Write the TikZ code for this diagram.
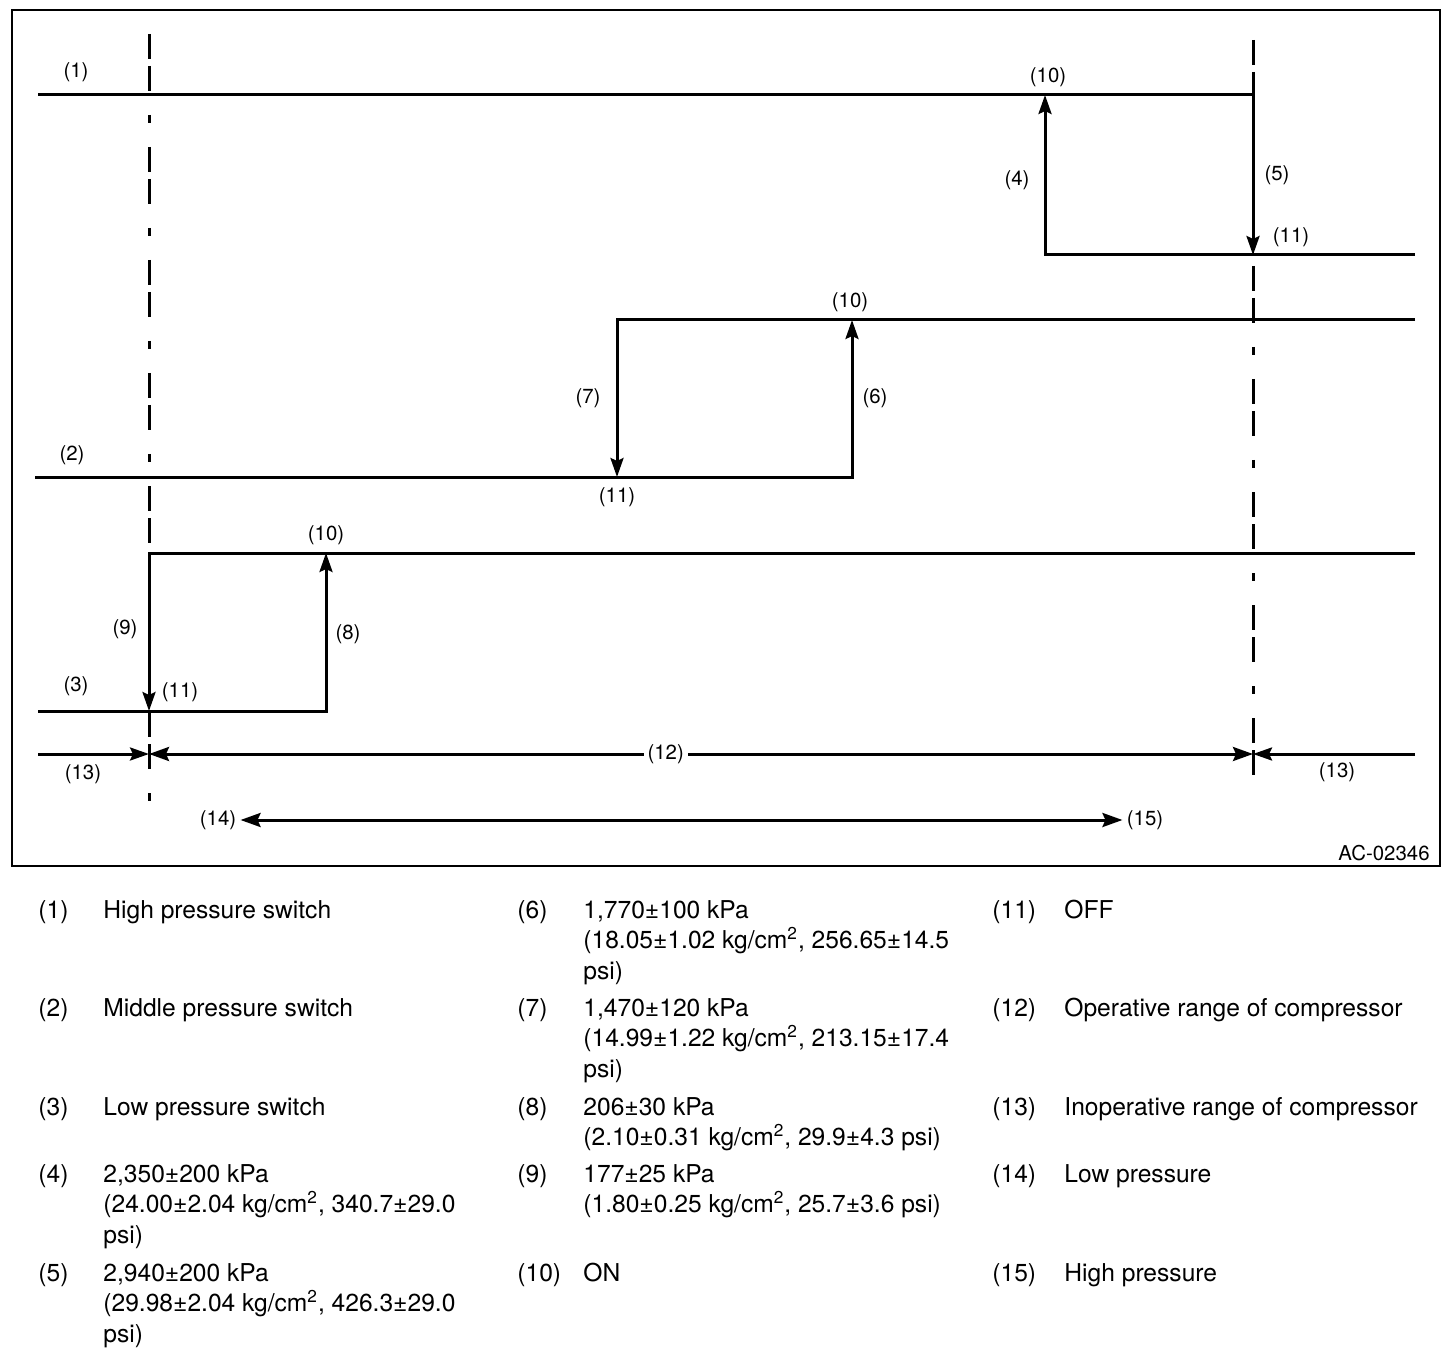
\documentclass[tikz,border=0pt]{standalone}
\usepackage{fontspec}
\setmainfont{TeX Gyre Heros}
\usetikzlibrary{arrows.meta, positioning}
\newcommand{\kgcm}{kg/cm\textsuperscript{2}}

\begin{document}
\begin{tikzpicture}[
    x=0.5pt, y=-0.5pt,
    sigline/.style={line width=1.5pt},
    sigarrow/.style={line width=1.5pt, -{Stealth[length=9.5pt, width=6.5pt, inset=1.5pt]}},
    rangearrow/.style={line width=1.5pt, {Stealth[length=10pt, width=7pt, inset=1.5pt]}-{Stealth[length=10pt, width=7pt, inset=1.5pt]}},
    limitline/.style={line width=1.5pt, dash pattern=on 12.5pt off 3.5pt on 12.5pt off 12pt on 4pt off 12pt},
    lbl/.style={font=\fontsize{10.2}{12}\selectfont, inner sep=2pt},
    legnum/.style={font=\fontsize{12.3}{15.3}\selectfont, inner sep=0pt, anchor=base west},
    legtxt/.style={legnum}
]
    \useasboundingbox (0,0) rectangle (1456,1358);

    % frame
    \coordinate (frameNW) at (12,10);
    \coordinate (frameSE) at (1440,866);
    \draw[line width=1.2pt] (frameNW) rectangle (frameSE);

    % limits of the operative range
    \coordinate (limLtop) at (149,34);
    \coordinate (limLbot) at (149,802);
    \coordinate (limRtop) at (1253,40);
    \coordinate (limRbot) at (1253,782);
    \draw[limitline] (limLtop) -- (limLbot);
    \draw[limitline] (limRtop) -- (limRbot);

    % high pressure switch
    \coordinate (hiStart) at (38,95);
    \coordinate (hiOn) at (1045,95);
    \coordinate (hiCut) at (1253,95);
    \coordinate (hiOff) at (1253,255);
    \coordinate (hiBack) at (1045,255);
    \coordinate (hiEnd) at (1415,255);
    \draw[sigarrow] (hiStart) -- (hiCut) -- (hiOff);
    \draw[sigarrow] (hiEnd) -- (hiBack) -- (hiOn);

    % middle pressure switch
    \coordinate (midStart) at (35,477);
    \coordinate (midCut) at (852,477);
    \coordinate (midOn) at (852,320);
    \coordinate (midEnd) at (1415,320);
    \coordinate (midBack) at (617,320);
    \coordinate (midOff) at (617,477);
    \draw[sigarrow] (midStart) -- (midCut) -- (midOn);
    \draw[sigarrow] (midEnd) -- (midBack) -- (midOff);

    % low pressure switch
    \coordinate (loStart) at (38,711);
    \coordinate (loCut) at (326,711);
    \coordinate (loOn) at (326,553);
    \coordinate (loEnd) at (1415,553);
    \coordinate (loBack) at (149,553);
    \coordinate (loOff) at (149,711);
    \draw[sigarrow] (loStart) -- (loCut) -- (loOn);
    \draw[sigarrow] (loEnd) -- (loBack) -- (loOff);

    % ranges
    \coordinate (rgL) at (38,754);
    \coordinate (rgA) at (149,754);
    \coordinate (rgB) at (1253,754);
    \coordinate (rgR) at (1415,754);
    \draw[sigarrow] (rgL) -- (rgA);
    \draw[sigarrow] (rgR) -- (rgB);
    \draw[rangearrow] (rgA) -- node[lbl, fill=white, pos=0.468] (n12) {(12)} (rgB);

    \node[lbl] (n14) at (218,820) {(14)};
    \node[lbl] (n15) at (1145,820) {(15)};
    \draw[rangearrow] (n14) -- (n15);

    % labels
    \node[lbl] (n1) at (76,72) {(1)};
    \node[lbl] (n10a) at (1048,77) {(10)};
    \node[lbl] (n4) at (1017,180) {(4)};
    \node[lbl] (n5) at (1277,175) {(5)};
    \node[lbl] (n11a) at (1291,237) {(11)};
    \node[lbl] (n10b) at (850,302) {(10)};
    \node[lbl] (n7) at (588,398) {(7)};
    \node[lbl] (n6) at (875,398) {(6)};
    \node[lbl] (n2) at (72,455) {(2)};
    \node[lbl] (n11b) at (617,497) {(11)};
    \node[lbl] (n10c) at (326,535) {(10)};
    \node[lbl] (n9) at (125,629) {(9)};
    \node[lbl] (n8) at (348,634) {(8)};
    \node[lbl] (n3) at (76,686) {(3)};
    \node[lbl] (n11c) at (180,692) {(11)};
    \node[lbl] (n13a) at (83,774) {(13)};
    \node[lbl] (n13b) at (1337,772) {(13)};
    \node[lbl, anchor=east] (figid) at (1434,853) {AC-02346};

    % legend
    \node[legnum] (num1) at (38,918) {(1)};
    \node[legtxt] (txt1) at (103,918) {High pressure switch};
    \node[legnum] (num2) at (38,1016) {(2)};
    \node[legtxt] (txt2) at (103,1016) {Middle pressure switch};
    \node[legnum] (num3) at (38,1115) {(3)};
    \node[legtxt] (txt3) at (103,1115) {Low pressure switch};
    \node[legnum] (num4) at (38,1182) {(4)};
    \node[legtxt] (txt4) at (103,1182) {\parbox[t]{300pt}{2,350±200 kPa\\(24.00±2.04 \kgcm, 340.7±29.0\\psi)}};
    \node[legnum] (num5) at (38,1281) {(5)};
    \node[legtxt] (txt5) at (103,1281) {\parbox[t]{300pt}{2,940±200 kPa\\(29.98±2.04 \kgcm, 426.3±29.0\\psi)}};

    \node[legnum] (num6) at (517,918) {(6)};
    \node[legtxt] (txt6) at (583,918) {\parbox[t]{300pt}{1,770±100 kPa\\(18.05±1.02 \kgcm, 256.65±14.5\\psi)}};
    \node[legnum] (num7) at (517,1016) {(7)};
    \node[legtxt] (txt7) at (583,1016) {\parbox[t]{300pt}{1,470±120 kPa\\(14.99±1.22 \kgcm, 213.15±17.4\\psi)}};
    \node[legnum] (num8) at (517,1115) {(8)};
    \node[legtxt] (txt8) at (583,1115) {\parbox[t]{300pt}{206±30 kPa\\(2.10±0.31 \kgcm, 29.9±4.3 psi)}};
    \node[legnum] (num9) at (517,1182) {(9)};
    \node[legtxt] (txt9) at (583,1182) {\parbox[t]{300pt}{177±25 kPa\\(1.80±0.25 \kgcm, 25.7±3.6 psi)}};
    \node[legnum] (num10) at (517,1281) {(10)};
    \node[legtxt] (txt10) at (583,1281) {ON};

    \node[legnum] (num11) at (992,918) {(11)};
    \node[legtxt] (txt11) at (1064,918) {OFF};
    \node[legnum] (num12) at (992,1016) {(12)};
    \node[legtxt] (txt12) at (1064,1016) {Operative range of compressor};
    \node[legnum] (num13) at (992,1115) {(13)};
    \node[legtxt] (txt13) at (1064,1115) {Inoperative range of compressor};
    \node[legnum] (num14) at (992,1182) {(14)};
    \node[legtxt] (txt14) at (1064,1182) {Low pressure};
    \node[legnum] (num15) at (992,1281) {(15)};
    \node[legtxt] (txt15) at (1064,1281) {High pressure};
\end{tikzpicture}
\end{document}
